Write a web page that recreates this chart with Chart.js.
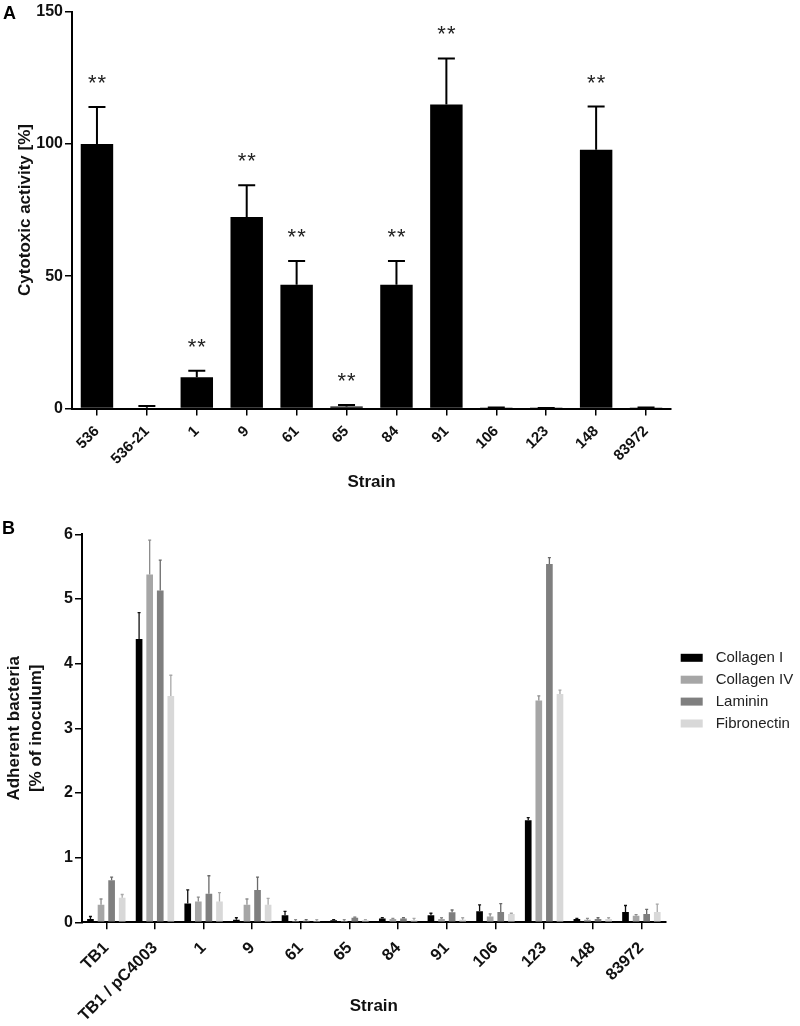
<!DOCTYPE html>
<html><head><meta charset="utf-8">
<script src="https://cdn.jsdelivr.net/npm/chart.js@4.4.1/dist/chart.umd.min.js"></script>
<style>
html,body{margin:0;padding:0;background:#fff;}
#wrap{position:relative;width:800px;height:1026px;overflow:hidden;}
.panel{position:absolute;left:0;width:800px;}
.letter{position:absolute;font-family:"Liberation Sans",Arial,sans-serif;font-weight:bold;font-size:18px;color:#000;line-height:1;}
</style></head><body>
<div id="wrap">
  <div class="panel" style="top:0;height:493px"><canvas id="ca" width="800" height="493"></canvas></div>
  <div class="panel" style="top:493px;height:533px"><canvas id="cb" width="800" height="533"></canvas></div>
  <div class="letter" style="left:3px;top:4px">A</div>
  <div class="letter" style="left:2px;top:519px">B</div>
</div>
<script>
// ---------- Panel A data ----------
const strainsA = ['536','536-21','1','9','61','65','84','91','106','123','148','83972'];
const cytotoxic = [100, 0.3, 11.8, 72.4, 46.8, 0.8, 46.8, 114.9, 0.1, 0.05, 97.8, 0.1];
const cytotoxicErrTop = [113.9, 0.9, 14.3, 84.4, 55.7, 1.3, 55.7, 132.3, 0.4, 0.2, 114.1, 0.4];
const significance = ['**','','**','**','**','**','**','**','','','**',''];
const ticksA = [0, 50, 100, 150];

// ---------- Panel B data ----------
const strainsB = ['TB1','TB1 / pC4003','1','9','61','65','84','91','106','123','148','83972'];
const seriesNames = ['Collagen I','Collagen IV','Laminin','Fibronectin'];
const collagenI      = [0.05, 4.38, 0.29, 0.04, 0.11, 0.03, 0.06, 0.11, 0.17, 1.58, 0.05, 0.16];
const collagenIErr   = [0.09, 4.79, 0.50, 0.07, 0.17, 0.04, 0.07, 0.14, 0.27, 1.62, 0.06, 0.26];
const collagenIV     = [0.27, 5.38, 0.32, 0.27, 0.02, 0.02, 0.05, 0.05, 0.09, 3.43, 0.04, 0.10];
const collagenIVErr  = [0.36, 5.91, 0.39, 0.36, 0.04, 0.04, 0.06, 0.07, 0.13, 3.50, 0.06, 0.12];
const laminin        = [0.65, 5.13, 0.44, 0.50, 0.025, 0.07, 0.06, 0.155, 0.16, 5.54, 0.05, 0.13];
const lamininErr     = [0.70, 5.60, 0.72, 0.70, 0.04, 0.08, 0.07, 0.19, 0.29, 5.64, 0.07, 0.20];
const fibronectin    = [0.38, 3.50, 0.32, 0.27, 0.02, 0.03, 0.03, 0.04, 0.13, 3.53, 0.05, 0.16];
const fibronectinErr = [0.43, 3.82, 0.46, 0.37, 0.04, 0.04, 0.06, 0.07, 0.14, 3.59, 0.07, 0.28];
const ticksB = [0, 1, 2, 3, 4, 5, 6];

const FONT = '"Liberation Sans", Arial, Helvetica, sans-serif';
Chart.defaults.font.family = FONT;
Chart.defaults.color = '#111';

const errorBars = {
  id: 'errorBars',
  afterDatasetsDraw(chart) {
    const ctx = chart.ctx, ys = chart.scales.y;
    chart.data.datasets.forEach((ds, i) => {
      if (!ds.errTop) return;
      const meta = chart.getDatasetMeta(i);
      ctx.save();
      ctx.strokeStyle = ds.errColor || '#000';
      ctx.lineWidth = ds.errWidth || 1;
      meta.data.forEach((el, j) => {
        const e = ds.errTop[j];
        if (e == null) return;
        const yT = ys.getPixelForValue(e);
        const yB = el.y;
        const cw = ds.capWidth || 4;
        ctx.beginPath();
        ctx.moveTo(el.x, yB); ctx.lineTo(el.x, yT);
        ctx.moveTo(el.x - cw/2, yT); ctx.lineTo(el.x + cw/2, yT);
        ctx.stroke();
      });
      ctx.restore();
    });
  }
};

const sigMarks = {
  id: 'sigMarks',
  afterDatasetsDraw(chart) {
    if (chart.canvas.id !== 'ca') return;
    const ctx = chart.ctx, ys = chart.scales.y;
    const ds = chart.data.datasets[0];
    const meta = chart.getDatasetMeta(0);
    ctx.save();
    ctx.fillStyle = '#222';
    ctx.font = '22px ' + FONT;
    if ('letterSpacing' in ctx) ctx.letterSpacing = '1px';
    ctx.textAlign = 'center';
    ctx.textBaseline = 'alphabetic';
    meta.data.forEach((el, j) => {
      if (!significance[j]) return;
      const ref = ds.errTop[j] != null ? ds.errTop[j] : ds.data[j];
      ctx.fillText(significance[j], el.x + 0.5, ys.getPixelForValue(ref) - 17);
    });
    ctx.restore();
  }
};

const sideLegend = {
  id: 'sideLegend',
  afterDraw(chart) {
    if (chart.canvas.id !== 'cb') return;
    const ctx = chart.ctx, ca = chart.chartArea;
    ctx.save();
    ctx.font = '15px ' + FONT;
    ctx.textBaseline = 'middle';
    ctx.textAlign = 'left';
    const x0 = ca.right + 15, y0 = ca.top + 123.5, step = 21.9;
    chart.data.datasets.forEach((ds, i) => {
      const y = y0 + i * step;
      ctx.fillStyle = ds.backgroundColor;
      ctx.fillRect(x0, y - 4, 22, 8);
      ctx.fillStyle = '#222';
      ctx.fillText(ds.label, x0 + 35, y);
    });
    ctx.restore();
  }
};

function axisCommon() {
  return {
    grid: { display: true, drawOnChartArea: false, drawTicks: true, tickLength: 7, color: '#000', lineWidth: 1.5 },
    border: { display: true, color: '#000', width: 2 }
  };
}

// ---------- Chart A ----------
new Chart(document.getElementById('ca'), {
  type: 'bar',
  data: {
    labels: strainsA,
    datasets: [{
      label: 'Cytotoxic activity',
      data: cytotoxic,
      errTop: cytotoxicErrTop,
      errColor: '#000', errWidth: 2, capWidth: 17,
      backgroundColor: '#000',
      borderWidth: 0,
      barPercentage: 0.65,
      categoryPercentage: 1.0
    }]
  },
  options: {
    responsive: false,
    animation: false,
    events: [],
    layout: { padding: { left: 15, right: 129, top: 11, bottom: 0 } },
    plugins: { legend: { display: false }, tooltip: { enabled: false } },
    scales: {
      x: Object.assign(axisCommon(), {
        grid: { display: true, drawOnChartArea: false, drawTicks: true, tickLength: 7, color: '#000', lineWidth: 1.5, offset: false },
        ticks: { autoSkip: false, minRotation: 45, maxRotation: 45, padding: 7, font: { size: 15, weight: 'bold' }, color: '#111' },
        title: { display: true, text: 'Strain', font: { size: 17, weight: 'bold' }, color: '#111', padding: { top: 0, bottom: 0 } },
        afterFit(s) { s.height = 84.5; }
      }),
      y: Object.assign(axisCommon(), {
        min: 0, max: 150,
        afterBuildTicks(s) { s.ticks = ticksA.map(v => ({ value: v })); },
        ticks: { padding: 2, font: { size: 16, weight: 'bold' }, color: '#111' },
        title: { display: true, text: 'Cytotoxic activity [%]', font: { size: 17, weight: 'bold' }, color: '#111', padding: { top: 0, bottom: 0 } },
        afterFit(s) { s.width = 57; }
      })
    }
  },
  plugins: [errorBars, sigMarks]
});

// ---------- Chart B ----------
const colorsB = ['#000000', '#a6a6a6', '#7f7f7f', '#d8d8d8'];
const errColorsB = ['#111111', '#8c8c8c', '#6a6a6a', '#a8a8a8'];
const valuesB = [collagenI, collagenIV, laminin, fibronectin];
const errsB = [collagenIErr, collagenIVErr, lamininErr, fibronectinErr];
new Chart(document.getElementById('cb'), {
  type: 'bar',
  data: {
    labels: strainsB,
    datasets: seriesNames.map((n, i) => ({
      label: n,
      data: valuesB[i],
      errTop: errsB[i],
      errColor: errColorsB[i], errWidth: 1.3, capWidth: 3,
      backgroundColor: colorsB[i],
      borderWidth: 0,
      barPercentage: 0.63,
      categoryPercentage: 0.87
    }))
  },
  options: {
    responsive: false,
    animation: false,
    events: [],
    layout: { padding: { left: 3, right: 134.3, top: 41.3, bottom: 0 } },
    plugins: { legend: { display: false }, tooltip: { enabled: false } },
    scales: {
      x: Object.assign(axisCommon(), {
        grid: { display: true, drawOnChartArea: false, drawTicks: true, tickLength: 7, color: '#000', lineWidth: 1.5, offset: false },
        ticks: { autoSkip: false, minRotation: 45, maxRotation: 45, padding: 9, font: { size: 16.5, weight: 'bold' }, color: '#111' },
        title: { display: true, text: 'Strain', font: { size: 17, weight: 'bold' }, color: '#111', padding: { top: 0, bottom: 9 } },
        afterFit(s) { s.height = 103.7; }
      }),
      y: Object.assign(axisCommon(), {
        min: 0, max: 6,
        afterBuildTicks(s) { s.ticks = ticksB.map(v => ({ value: v })); },
        ticks: { padding: 2, font: { size: 16, weight: 'bold' }, color: '#111' },
        title: { display: true, text: ['Adherent bacteria', '[% of inoculum]'], font: { size: 17, weight: 'bold', lineHeight: 1.3 }, color: '#111', padding: { top: 0, bottom: 0 } },
        afterFit(s) { s.width = 79; }
      })
    }
  },
  plugins: [errorBars, sideLegend]
});
</script>
</body></html>
